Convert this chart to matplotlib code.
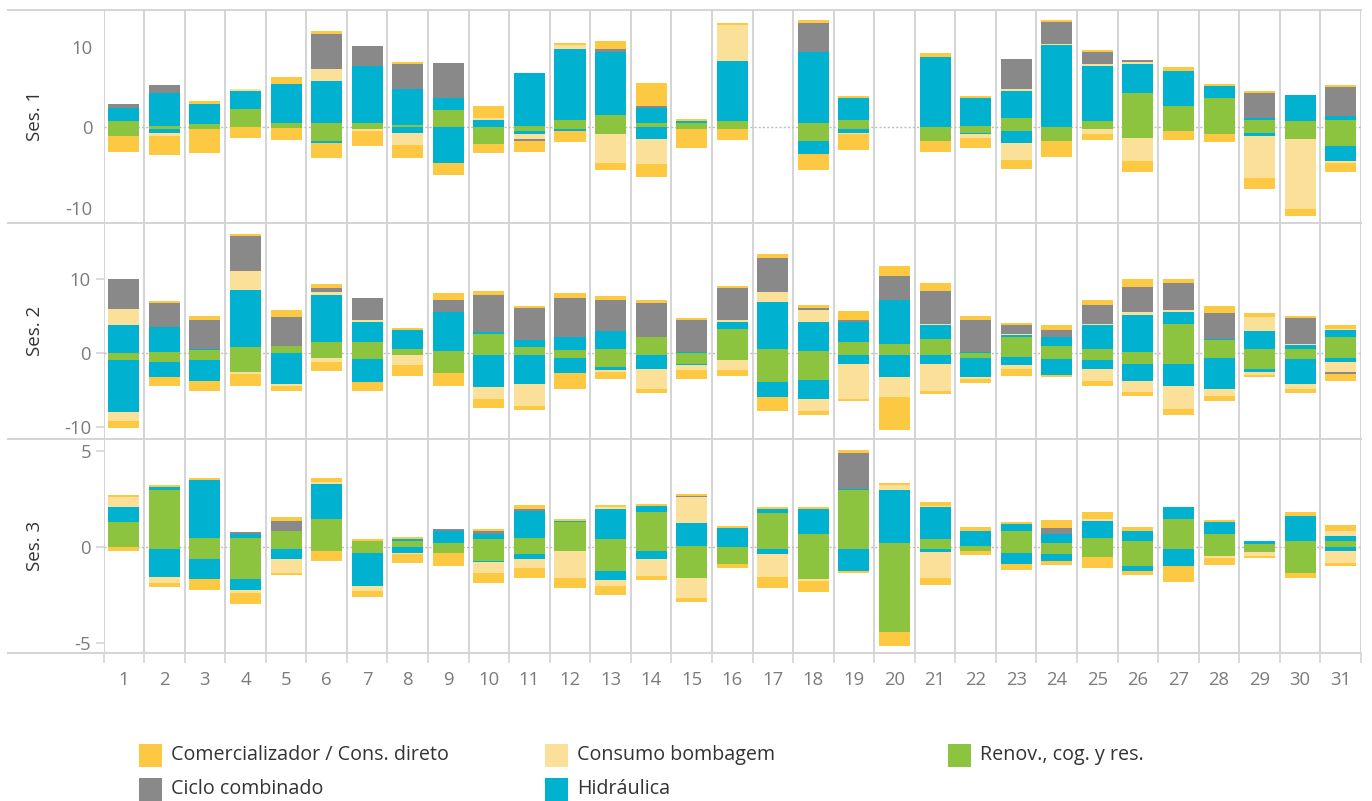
import numpy as np
import matplotlib
matplotlib.use('Agg')
import matplotlib.pyplot as plt
from matplotlib.lines import Line2D
from matplotlib.patches import Rectangle

plt.rcParams['font.family'] = ['Open Sans', 'DejaVu Sans']
plt.rcParams['axes.unicode_minus'] = False

# dias do mes
days = list(range(1, 32))

# categorias (ordem de empilhamento a partir do zero)
categories = ['Renov., cog. y res.', 'Hidráulica', 'Consumo bombagem',
              'Ciclo combinado', 'Comercializador / Cons. direto']
colors = ['#8CC43F', '#00B1D0', '#FAE099', '#898989', '#FDC942']

# ---------------- Ses. 1 ----------------
s1_ren_pos = [0.79, 0.2, 0.41, 2.24, 0.54, 0.54, 0.54, 0.29, 2.11, 0, 0.2, 0.91, 1.53, 0.5, 0.54, 0.79,
              0, 0.54, 0.91, 0, 0, 0.17, 1.16, 0, 0.79, 4.27, 2.65, 3.64, 0.91, 0.79, 0.91]
s1_ren_neg = [-1.08, -0.2, -0.2, 0, -0.08, -1.7, -0.2, 0, 0, -2.07, -0.46, -0.2, -0.83, 0, -0.2, -0.2,
              0, -1.7, -0.2, 0, -1.7, -0.7, -0.46, -1.7, -0.2, -1.33, -0.46, -0.83, -0.7, -1.45, -2.32]
s1_hid_pos = [1.66, 4.06, 2.48, 2.24, 4.84, 5.22, 7.08, 4.47, 1.53, 0.91, 6.54, 8.82, 7.87, 1.9, 0.25, 7.45,
              0, 8.86, 2.73, 0, 8.74, 3.48, 3.35, 10.23, 6.83, 3.6, 4.35, 1.49, 0.25, 3.23, 0.54]
s1_hid_neg = [0, -0.5, 0, 0, 0, -0.25, 0, -0.7, -4.47, 0, -0.37, -0.25, 0, -1.49, 0, 0,
              0, -1.61, -0.5, 0, 0, -0.12, -1.49, 0, 0, 0, 0, 0, -0.37, 0, -1.86]
s1_bom_pos = [0, 0, 0, 0.25, 0, 1.49, 0, 0, 0, 0.25, 0, 0.5, 0, 0, 0, 4.47,
              0, 0, 0, 0, 0, 0, 0.25, 0.17, 0.25, 0.25, 0, 0, 0, 0, 0]
s1_bom_neg = [0, -0.37, 0, 0, 0, 0, -0.25, -1.49, 0, 0, -0.62, 0, -3.6, -3.1, 0, 0,
              0, 0, -0.12, 0, 0, -0.5, -2.11, 0, -0.62, -2.86, 0, 0, -5.22, -8.7, -0.25]
s1_cic_pos = [0.46, 0.99, 0, 0, 0, 4.35, 2.48, 3.1, 4.43, 0, 0, 0, 0.33, 0.2, 0, 0,
              0, 3.56, 0, 0, 0, 0, 3.73, 2.69, 1.49, 0.25, 0, 0, 3.1, 0, 3.56]
s1_cic_neg = [0, 0, 0, 0, 0, 0, 0, 0, 0, 0, -0.25, 0, 0, 0, 0, 0,
              0, 0, 0, 0, 0, 0, 0, 0, 0, 0, 0, 0, 0, 0, 0]
s1_com_pos = [0, 0, 0.37, 0, 0.87, 0.37, 0, 0.25, 0, 1.49, 0, 0.25, 0.99, 2.98, 0.25, 0.25,
              0, 0.37, 0.3, 0, 0.5, 0.25, 0, 0.25, 0.25, 0, 0.5, 0.25, 0.3, 0, 0.25]
s1_com_neg = [-1.99, -2.36, -2.98, -1.37, -1.49, -1.86, -1.86, -1.61, -1.49, -1.12, -1.37, -1.37, -0.87, -1.61, -2.36, -1.37,
              0, -1.99, -1.99, 0, -1.37, -1.24, -1.12, -1.99, -0.75, -1.37, -1.12, -0.99, -1.37, -0.87, -1.12]

# ---------------- Ses. 2 ----------------
s2_ren_pos = [0, 0.18, 0.45, 0.86, 0.99, 1.53, 1.53, 0.59, 0.32, 2.61, 0.86, 0.45, 0.59, 2.21, 0, 3.29,
              0.59, 0.32, 1.53, 1.26, 1.94, 0, 2.21, 0.99, 0.59, 0.18, 3.96, 1.8, 0.59, 0.59, 2.25]
s2_ren_neg = [-0.9, -1.17, -0.9, -2.52, 0, -0.63, -0.77, -0.23, -2.66, -0.23, -0.23, -0.63, -1.85, -0.23, -1.44, -0.9,
              -3.87, -3.6, -0.23, -0.23, -0.23, -0.63, -0.5, -0.77, -0.9, -1.44, -1.44, -0.63, -2.12, -0.77, -0.59]
s2_hid_pos = [3.83, 3.38, 0.09, 7.7, 0, 6.35, 2.7, 2.57, 5.27, 0.27, 0.99, 1.76, 2.43, 0, 0.18, 0.95,
              6.35, 3.92, 2.7, 5.95, 1.89, 0.18, 0.27, 1.22, 3.24, 5.0, 1.62, 0.14, 2.43, 0.54, 0.9]
s2_hid_neg = [-7.03, -2.03, -2.84, 0, -4.14, 0, -3.11, 0, 0, -4.32, -3.92, -2.03, -0.41, -1.89, -0.14, 0,
              -2.03, -2.57, -1.22, -2.97, -1.22, -2.57, -1.08, -2.16, -1.22, -2.3, -2.97, -4.19, -0.41, -3.38, -0.59]
s2_bom_pos = [2.16, 0, 0, 2.57, 0, 0.41, 0.27, 0, 0, 0, 0, 0, 0, 0, 0, 0.27,
              1.35, 1.62, 0, 0, 0.14, 0, 0.14, 0, 0.14, 0.41, 0.27, 0, 1.89, 0.14, 0.14]
s2_bom_neg = [-1.22, 0, 0, -0.27, -0.27, -0.54, 0, -1.35, 0, -1.62, -2.97, 0, -0.27, -2.7, -0.68, -1.35,
              0, -1.62, -4.73, -2.7, -3.65, -0.27, -0.54, 0, -1.62, -1.49, -3.11, -0.95, -0.41, -0.68, -1.35]
s2_cic_pos = [4.05, 3.24, 3.96, 4.73, 3.92, 0.54, 2.97, 0, 1.62, 5.0, 4.28, 5.27, 4.19, 4.59, 4.32, 4.32,
              4.59, 0.27, 0.27, 3.24, 4.46, 4.32, 1.22, 0.95, 2.57, 3.38, 3.65, 3.51, 0, 3.51, 0]
s2_cic_neg = [0, 0, 0, 0, 0, 0, 0, 0, 0, 0, 0, 0, 0, 0, 0, 0,
              0, 0, 0, 0, 0, 0, 0, 0, 0, 0, 0, 0, 0, 0, -0.27]
s2_com_pos = [0, 0.27, 0.54, 0.27, 0.95, 0.54, 0, 0.27, 0.95, 0.54, 0.27, 0.68, 0.54, 0.41, 0.27, 0.27,
              0.54, 0.41, 1.22, 1.35, 1.08, 0.54, 0.27, 0.68, 0.68, 1.08, 0.54, 0.95, 0.54, 0.27, 0.54]
s2_com_neg = [-0.95, -1.22, -1.35, -1.62, -0.68, -1.22, -1.22, -1.49, -1.76, -1.22, -0.54, -2.16, -0.95, -0.54, -1.22, -0.81,
              -1.89, -0.54, -0.27, -4.46, -0.41, -0.54, -0.95, -0.27, -0.68, -0.54, -0.81, -0.68, -0.27, -0.54, -0.95]

# ---------------- Ses. 3 ----------------
s3_ren_pos = [1.3, 2.97, 0.47, 0.47, 0.83, 1.46, 0.31, 0.31, 0.21, 0.42, 0.47, 1.3, 0.42, 1.82, 0.05, 0,
              1.77, 0.68, 2.97, 0.21, 0.42, 0.05, 0.83, 0.21, 0.47, 0.31, 1.46, 0.68, 0.16, 0.31, 0.31]
s3_ren_neg = [0, -0.1, -0.63, -1.67, -0.1, -0.21, -0.31, 0, -0.31, -0.73, -0.36, -0.21, -1.25, -0.21, -1.61, -0.89,
              -0.1, -1.67, -0.1, -4.43, -0.1, -0.21, -0.31, -0.36, -0.52, -0.99, -0.1, -0.47, -0.26, -1.35, 0]
s3_hid_pos = [0.78, 0.16, 3.02, 0.21, 0, 1.82, 0, 0.1, 0.63, 0.26, 1.41, 0.05, 1.56, 0.31, 1.2, 0.99,
              0.21, 1.3, 0.05, 2.76, 1.67, 0.78, 0.36, 0.47, 0.89, 0.52, 0.63, 0.63, 0.16, 1.3, 0.26]
s3_hid_neg = [0, -1.46, -1.04, -0.57, -0.52, 0, -1.72, -0.31, 0, -0.05, -0.26, 0, -0.47, -0.42, 0, 0,
              -0.26, 0, -1.15, 0, -0.16, 0, -0.57, -0.36, 0, -0.26, -0.89, 0, 0, 0, -0.21]
s3_bom_pos = [0.52, 0, 0, 0, 0, 0.1, 0, 0, 0, 0, 0, 0, 0.1, 0, 1.35, 0,
              0, 0, 0, 0.26, 0.05, 0, 0, 0, 0.1, 0, 0, 0, 0, 0, 0.26]
s3_bom_neg = [0, -0.31, 0, -0.16, -0.73, 0, -0.26, -0.05, 0, -0.57, -0.47, -1.41, -0.31, -0.89, -1.04, 0,
              -1.2, -0.1, 0, 0, -1.35, 0, 0, 0, 0, 0, 0, -0.1, -0.21, 0, -0.63]
s3_cic_pos = [0, 0, 0, 0.1, 0.52, 0, 0, 0, 0.1, 0.16, 0.1, 0, 0, 0, 0.05, 0,
              0, 0, 1.88, 0, 0, 0, 0, 0.31, 0, 0, 0, 0, 0, 0, 0]
s3_cic_neg = [0] * 31
s3_com_pos = [0.1, 0.1, 0.1, 0, 0.21, 0.21, 0.1, 0.1, 0, 0.1, 0.21, 0.1, 0.1, 0.1, 0.1, 0.1,
              0.1, 0.1, 0.16, 0.1, 0.21, 0.21, 0.1, 0.42, 0.36, 0.21, 0, 0.1, 0, 0.21, 0.31]
s3_com_neg = [-0.21, -0.21, -0.57, -0.57, -0.1, -0.52, -0.31, -0.47, -0.68, -0.52, -0.52, -0.52, -0.47, -0.21, -0.21, -0.21,
              -0.57, -0.57, -0.1, -0.73, -0.36, -0.21, -0.31, -0.21, -0.57, -0.21, -0.83, -0.36, -0.1, -0.26, -0.16]

sessions = [
    ('Ses. 1', [s1_ren_pos, s1_hid_pos, s1_bom_pos, s1_cic_pos, s1_com_pos],
               [s1_ren_neg, s1_hid_neg, s1_bom_neg, s1_cic_neg, s1_com_neg],
     (-11.85, 14.6), [-10, 0, 10]),
    ('Ses. 2', [s2_ren_pos, s2_hid_pos, s2_bom_pos, s2_cic_pos, s2_com_pos],
               [s2_ren_neg, s2_hid_neg, s2_bom_neg, s2_cic_neg, s2_com_neg],
     (-11.58, 17.65), [-10, 0, 10]),
    ('Ses. 3', [s3_ren_pos, s3_hid_pos, s3_bom_pos, s3_cic_pos, s3_com_pos],
               [s3_ren_neg, s3_hid_neg, s3_bom_neg, s3_cic_neg, s3_com_neg],
     (-5.54, 5.625), [-5, 0, 5]),
]

W, H = 1372, 801
fig = plt.figure(figsize=(W / 100, H / 100), dpi=100)

GRID = '#d4d4d4'
TICK = '#7b7b7b'
x_left, x_right = 103.5, 1361
panel_edges = [10, 222.7, 439, 653.3]

axes = []
for i, (name, pos_list, neg_list, ylim, yticks) in enumerate(sessions):
    top, bot = panel_edges[i], panel_edges[i + 1]
    ax = fig.add_axes([x_left / W, 1 - bot / H, (x_right - x_left) / W, (bot - top) / H])
    axes.append(ax)

    ax.axhline(0, color='#bdbdbd', lw=1.0, ls=(0, (1.5, 1.5)), zorder=1)

    bottom_pos = np.zeros(len(days))
    bottom_neg = np.zeros(len(days))
    for vals, c in zip(pos_list, colors):
        v = np.array(vals)
        ax.bar(days, v, bottom=bottom_pos, width=0.765, color=c, linewidth=0, zorder=2)
        bottom_pos += v
    for vals, c in zip(neg_list, colors):
        v = np.array(vals)
        ax.bar(days, v, bottom=bottom_neg, width=0.765, color=c, linewidth=0, zorder=2)
        bottom_neg += v

    # separadores de coluna
    for d in range(len(days) + 1):
        ax.axvline(d + 0.5, color=GRID, lw=1.4, zorder=0)

    ax.set_xlim(0.5, 31.5)
    ax.set_ylim(*ylim)
    ax.set_yticks(yticks)
    ax.set_yticklabels([str(t) for t in yticks])
    for s in ax.spines.values():
        s.set_visible(False)
    ax.tick_params(axis='y', colors=GRID, labelcolor=TICK, labelsize=13.3,
                   length=0 if i == 0 else 6, width=1.2, pad=8 if i == 0 else 3)
    ax.set_facecolor('none')

    fig.text(35 / W, 1 - (top + bot) / 2 / H, name, rotation=90, ha='center', va='center',
             fontsize=13.5, color='#333333')

    if i < 2:
        ax.set_xticks([])
    else:
        ax.set_xticks(days)
        ax.set_xticklabels([str(d) for d in days])
        ax.set_xticks([d + 0.5 for d in range(len(days) + 1)], minor=True)
        ax.tick_params(axis='x', which='major', length=0, labelcolor=TICK, labelsize=13.3, pad=13)
        ax.tick_params(axis='x', which='minor', length=7, width=1.2, color=GRID)

# lineas horizontales entre paneles
for yp in panel_edges:
    fig.add_artist(Line2D([8 / W, x_right / W], [1 - yp / H, 1 - yp / H],
                          transform=fig.transFigure, color=GRID, lw=1.4))

# leyenda
legend_items = [
    ('Comercializador / Cons. direto', '#FDC942', 139, 755),
    ('Consumo bombagem', '#FAE099', 545, 755),
    ('Renov., cog. y res.', '#8CC43F', 948, 755),
    ('Ciclo combinado', '#898989', 139, 789),
    ('Hidráulica', '#00B1D0', 545, 789),
]
sq = 23
for label, c, xp, yp in legend_items:
    fig.add_artist(Rectangle((xp / W, 1 - (yp + sq / 2) / H), sq / W, sq / H,
                             transform=fig.transFigure, color=c, lw=0))
    fig.text((xp + sq + 9) / W, 1 - yp / H, label, ha='left', va='center',
             fontsize=14.2, color='#333333')

fig.savefig('out.png', dpi=100)
